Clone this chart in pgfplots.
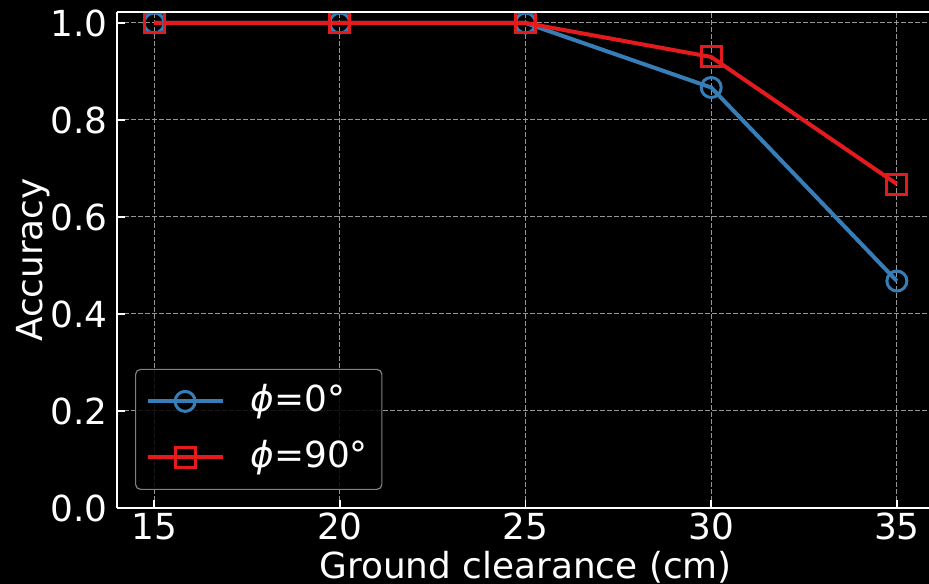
\documentclass[border=0pt]{standalone}
\usepackage{fontspec}
\setmainfont{DejaVu Sans}
\usepackage{pgfplots}
\pgfplotsset{compat=1.18}
\definecolor{cblue}{RGB}{55,126,184}
\definecolor{cred}{RGB}{228,26,28}
\definecolor{cgrid}{RGB}{150,150,150}
\begin{document}
\begin{tikzpicture}[x=1bp,y=1bp]
\fill[black] (0,0) rectangle (929,584);
\useasboundingbox (0,0) rectangle (929,584);
\clip (0,0) rectangle (929,584);
\begin{axis}[
  at={(117bp,76bp)}, anchor=south west,
  scale only axis, width=817bp, height=496bp,
  xmin=14, xmax=36, ymin=0, ymax=1.0227,
  xtick={15,20,25,30,35},
  ytick={0,0.2,0.4,0.6,0.8,1.0},
  yticklabel style={/pgf/number format/fixed, /pgf/number format/fixed zerofill, /pgf/number format/precision=1, inner sep=0pt, xshift=-9bp},
  /pgf/number format/assume math mode=true,
  font=\fontsize{36}{43}\selectfont,
  ticklabel style={font=\fontsize{36}{43}\selectfont, text=white},
  xticklabel style={inner sep=0pt, yshift=-5bp},
  label style={font=\fontsize{36}{43}\selectfont, text=white, inner sep=0pt},
  xlabel={Ground clearance (cm)},
  ylabel={Accuracy},
  xlabel style={at={(0.5,0)}, anchor=base, yshift=-71bp},
  ylabel style={at={(0,0.5)}, anchor=base, yshift=74bp},
  axis line style={white, line width=2.5bp},
  axis x line*=bottom, axis y line*=left,
  separate axis lines,
  tick align=inside,
  tick style={white, line width=1.5bp},
  major tick length=8bp,
  xtick pos=bottom, ytick pos=left,
  grid=major,
  major grid style={cgrid, line width=1bp, dash pattern=on 4.5bp off 2.5bp},
  legend style={at={(0,0)}, anchor=south west, xshift=18bp, yshift=18bp,
    fill=black, fill opacity=0.85, text opacity=1, draw=gray, line width=1.2bp,
    rounded corners=5bp, text=white,
    inner xsep=10bp, inner ysep=10bp,
    row sep=12bp,
    nodes={inner sep=4bp, text height=28bp, text depth=8bp, font=\fontsize{36}{43}\selectfont}},
  legend cell align=left,
  legend image code/.code={\draw[mark repeat=2,mark phase=2] plot coordinates {(0bp,0bp) (37.5bp,0bp) (75bp,0bp)};},
  clip=false,
]
\addplot[cblue, line width=4bp, mark=o, mark size=10bp, mark options={line width=3bp, fill=none}]
  coordinates {(15,1.0) (20,1.0) (25,1.0) (30,0.867) (35,0.468)};
\addlegendentry{\hspace{22bp}{\itshape ϕ}=0°}
\addplot[cred, line width=4bp, mark=square, mark size=10bp, mark options={line width=3bp, fill=none}]
  coordinates {(15,1.0) (20,1.0) (25,1.0) (30,0.93) (35,0.668)};
\addlegendentry{\hspace{22bp}{\itshape ϕ}=90°}
\end{axis}
\draw[white, line width=2.5bp] (117,572) -- (940,572);
\end{tikzpicture}
\end{document}
